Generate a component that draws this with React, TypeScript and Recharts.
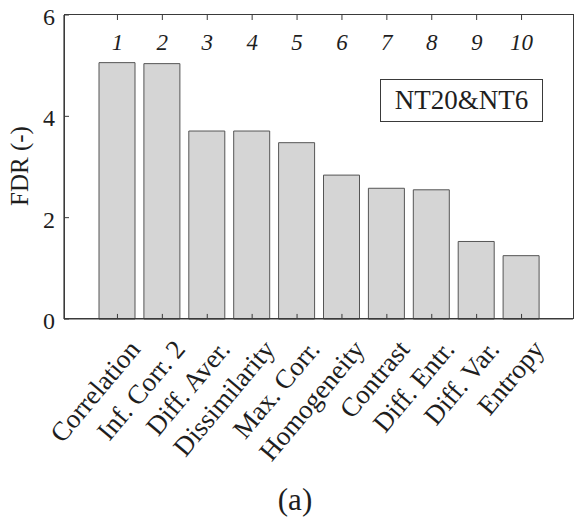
import { BarChart, Bar, XAxis, YAxis, ReferenceLine } from 'recharts'

const features = [
  'Correlation',
  'Inf. Corr. 2',
  'Diff. Aver.',
  'Dissimilarity',
  'Max. Corr.',
  'Homogeneity',
  'Contrast',
  'Diff. Entr.',
  'Diff. Var.',
  'Entropy',
]
const ranks = ['1', '2', '3', '4', '5', '6', '7', '8', '9', '10']
const fdr = [5.06, 5.04, 3.71, 3.71, 3.48, 2.84, 2.58, 2.55, 1.53, 1.25]
const yTicks = [0, 2, 4, 6]

const data = features.map((name, i) => ({ name, rank: ranks[i], fdr: fdr[i] }))

const FONT = '"Liberation Serif", "Times New Roman", serif'
const AXIS = '#3a3a3a'
const TEXT = '#1e1e1e'

function BottomTick({ x, y, payload }: any) {
  const ax = x + 24
  const ay = y + 31
  return (
    <text
      x={ax}
      y={ay}
      transform={`rotate(-50 ${ax} ${ay})`}
      textAnchor="end"
      fontFamily={FONT}
      fontSize={27}
      fill={TEXT}
    >
      {payload.value}
    </text>
  )
}

function TopTick({ x, y, payload }: any) {
  return (
    <g>
      <line x1={x} y1={y} x2={x} y2={y + 5} stroke={AXIS} strokeWidth={1} />
      <text x={x} y={y + 35} textAnchor="middle" fontFamily={FONT} fontStyle="italic" fontSize={23} fill={TEXT}>
        {payload.value}
      </text>
    </g>
  )
}

function LeftTick({ x, y, payload }: any) {
  return (
    <g>
      <line x1={x} y1={y} x2={x + 5} y2={y} stroke={AXIS} strokeWidth={1} />
      <text x={x - 9} y={y + 10} textAnchor="end" fontFamily={FONT} fontSize={24} fill={TEXT}>
        {payload.value}
      </text>
    </g>
  )
}

function RightTick({ x, y }: any) {
  return <line x1={x} y1={y} x2={x - 5} y2={y} stroke={AXIS} strokeWidth={1} />
}

export default function App() {
  return (
    <div style={{ position: 'absolute', left: 0, top: 0, width: 574, height: 518, background: '#fff' }}>
      <BarChart width={574} height={518} data={data} margin={{ top: 14, right: 0, left: 0, bottom: 0 }}>
        <Bar dataKey="fdr" barSize={36} fill="#d5d5d5" stroke="#555" strokeWidth={1} isAnimationActive={false} />
        {features.map((f) => (
          <ReferenceLine
            key={f}
            segment={[
              { x: f, y: 0 },
              { x: f, y: 0.1 },
            ]}
            stroke={AXIS}
            strokeWidth={1}
          />
        ))}
        <XAxis
          dataKey="name"
          height={199}
          padding={{ left: 31, right: 29 }}
          interval={0}
          axisLine={{ stroke: AXIS, strokeWidth: 1.2 }}
          tickLine={false}
          tickSize={0}
          tickMargin={0}
          tick={<BottomTick />}
        />
        <XAxis
          xAxisId="top"
          dataKey="rank"
          orientation="top"
          height={1}
          padding={{ left: 31, right: 29 }}
          interval={0}
          axisLine={false}
          tickLine={false}
          tickSize={0}
          tickMargin={0}
          tick={<TopTick />}
        />
        <YAxis
          width={64}
          domain={[0, 6]}
          ticks={yTicks}
          axisLine={{ stroke: AXIS, strokeWidth: 1.2 }}
          tickLine={false}
          tickSize={0}
          tickMargin={0}
          tick={<LeftTick />}
          label={() => (
            <text
              x={19}
              y={166}
              transform="rotate(-90 19 166)"
              textAnchor="middle"
              dominantBaseline="central"
              fontFamily={FONT}
              fontSize={25}
              fill={TEXT}
            >
              FDR (-)
            </text>
          )}
        />
        <YAxis
          yAxisId="right"
          orientation="right"
          width={1}
          domain={[0, 6]}
          ticks={yTicks}
          axisLine={false}
          tickLine={false}
          tickSize={0}
          tickMargin={0}
          tick={<RightTick />}
        />
      </BarChart>
      <div
        style={{
          position: 'absolute',
          left: 63.5,
          top: 14.4,
          width: 510,
          height: 305,
          boxSizing: 'border-box',
          border: `1.2px solid ${AXIS}`,
          pointerEvents: 'none',
        }}
      />
      <div
        style={{
          position: 'absolute',
          left: 380,
          top: 79,
          width: 161,
          height: 41,
          border: `1.3px solid ${AXIS}`,
          background: '#fff',
          fontFamily: FONT,
          fontSize: 27,
          color: TEXT,
          display: 'flex',
          alignItems: 'center',
          justifyContent: 'center',
        }}
      >
        NT20&amp;NT6
      </div>
      <div
        style={{
          position: 'absolute',
          left: 0,
          width: 590,
          top: 482,
          textAlign: 'center',
          fontFamily: FONT,
          fontSize: 31,
          lineHeight: '36px',
          color: TEXT,
        }}
      >
        (a)
      </div>
    </div>
  )
}
